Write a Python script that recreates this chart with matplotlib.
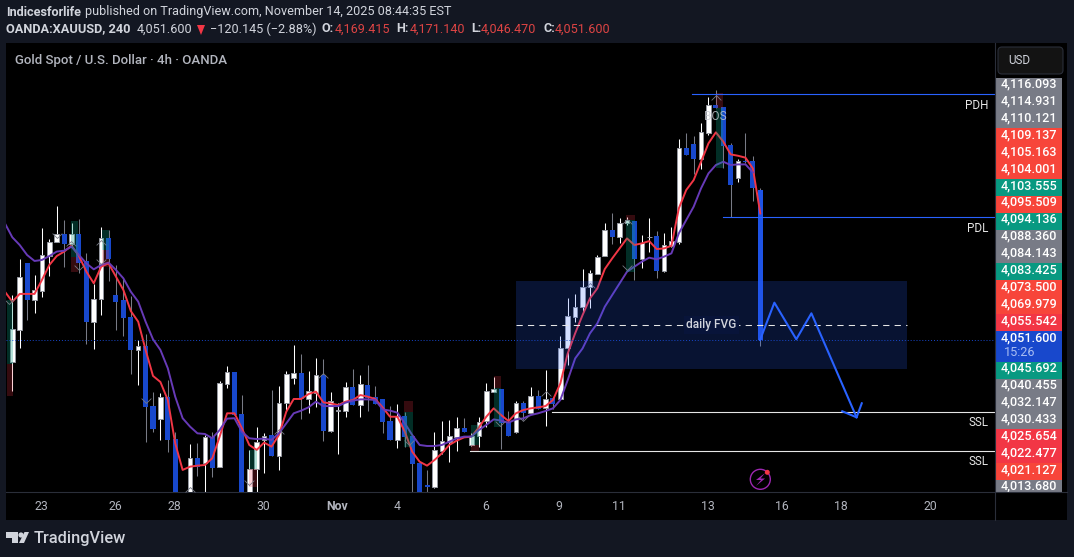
import matplotlib
matplotlib.use('Agg')
import matplotlib.pyplot as plt
from matplotlib.patches import Circle, FancyBboxPatch, Polygon, Rectangle
from matplotlib.path import Path
import numpy as np

plt.rcParams['font.family'] = ['Roboto', 'DejaVu Sans']

# OHLC of the 4h candles, one value per bar
opens = [4034.2, 4059.4, 4112.0, 4083.1, 4090.2, 4117.8, 4128.8, 4134.9, 4127.3, 4134.9,
         4113.6, 4065.7, 4083.3, 4131.7, 4086.8, 4082.8, 4069.4, 4043.4, 4046.5, 3999.2,
         3989.2, 4006.0, 3973.1, 3905.0, 3925.0, 3958.2, 3954.5, 3974.7, 3950.8, 4016.8,
         4026.0, 3992.9, 3925.0, 3949.2, 3972.1, 3976.0, 3960.0, 4001.3, 4021.5, 4025.4,
         4004.9, 4009.7, 4023.6, 3979.7, 3995.5, 3995.5, 4014.1, 4000.2, 4015.7, 4006.2,
         4004.7, 3987.3, 3972.3, 3991.3, 3975.5, 3954.2, 3936.6, 3935.5, 3963.9, 3971.0,
         3975.0, 3981.8, 3968.4, 3975.7, 3987.0, 4010.5, 4012.3, 3986.3, 3978.4, 4001.2,
         3993.9, 4007.0, 3997.3, 4005.5, 4004.9, 4044.6, 4069.6, 4077.5, 4092.8, 4103.5,
         4117.7, 4137.7, 4132.7, 4143.3, 4145.1, 4115.1, 4132.4, 4133.0, 4105.6, 4125.6,
         4128.5, 4202.7, 4205.6, 4194.0, 4214.8, 4236.6, 4235.0, 4205.1, 4179.3, 4192.2,
         4192.4, 4169.4]
highs = [4086.8, 4114.9, 4112.0, 4102.5, 4139.4, 4130.7, 4157.0, 4145.9, 4143.3, 4146.5,
         4119.6, 4095.4, 4140.7, 4138.0, 4110.4, 4099.4, 4086.0, 4051.3, 4056.0, 4010.2,
         4009.2, 4019.7, 3978.9, 3929.0, 3969.2, 3969.7, 3976.3, 3978.9, 4018.9, 4030.7,
         4026.0, 4007.9, 3964.5, 3982.4, 3977.6, 4011.8, 4015.0, 4027.1, 4047.3, 4040.2,
         4026.8, 4037.0, 4036.0, 4010.2, 4001.8, 4018.1, 4028.1, 4023.6, 4031.2, 4014.9,
         4004.7, 3999.1, 4000.7, 3994.7, 3975.5, 3954.2, 3948.6, 3978.6, 3987.3, 3988.1,
         3990.2, 3989.7, 3977.6, 3990.7, 4017.0, 4022.3, 4012.3, 3995.5, 4002.8, 4002.8,
         4013.9, 4011.8, 4027.5, 4006.5, 4054.4, 4084.1, 4087.2, 4107.2, 4106.4, 4118.3,
         4143.5, 4151.1, 4147.7, 4148.5, 4145.1, 4134.0, 4147.2, 4137.2, 4135.4, 4140.6,
         4209.8, 4214.5, 4212.4, 4222.2, 4242.9, 4248.5, 4235.0, 4206.4, 4194.0, 4214.5,
         4196.6, 4171.1]
lows = [4011.3, 4045.2, 4067.0, 4072.8, 4085.5, 4101.8, 4128.6, 4109.1, 4124.9, 4104.4,
        4048.4, 4044.4, 4071.0, 4098.1, 4059.1, 4054.4, 4024.4, 4015.8, 3971.0, 3978.9,
        3972.4, 3962.9, 3920.0, 3900.0, 3915.0, 3944.0, 3928.0, 3943.4, 3950.8, 4013.7,
        3992.1, 3920.0, 3920.0, 3925.0, 3946.6, 3960.0, 3948.7, 3994.7, 4016.5, 3989.2,
        3993.9, 3998.1, 3971.8, 3978.9, 3961.3, 3990.5, 3999.9, 3990.2, 3995.2, 4000.7,
        3978.1, 3972.3, 3966.0, 3967.1, 3930.8, 3920.0, 3931.3, 3934.2, 3961.3, 3955.0,
        3963.9, 3978.6, 3967.6, 3967.1, 3982.3, 4010.5, 3965.5, 3975.7, 3977.6, 3988.1,
        3993.4, 3996.5, 3983.4, 3996.5, 4004.9, 4031.5, 4065.7, 4073.6, 4076.2, 4103.5,
        4117.7, 4126.7, 4127.5, 4141.9, 4098.5, 4108.3, 4120.9, 4100.4, 4105.1, 4124.8,
        4126.7, 4197.2, 4181.9, 4186.1, 4212.9, 4234.0, 4186.6, 4148.5, 4176.1, 4190.6,
        4160.9, 4046.5]
closes = [4059.7, 4100.7, 4082.8, 4090.4, 4118.1, 4128.3, 4134.6, 4127.0, 4134.6, 4112.3,
          4065.7, 4083.3, 4131.5, 4115.2, 4081.2, 4068.6, 4043.4, 4046.3, 3998.7, 3981.0,
          4006.0, 3972.4, 3925.0, 3925.0, 3957.9, 3951.3, 3974.5, 3950.5, 4017.1, 4025.7,
          3992.1, 3925.0, 3949.5, 3971.0, 3975.8, 3960.0, 4001.3, 4024.2, 4024.9, 4004.4,
          4010.7, 4023.3, 3979.4, 4002.8, 3995.9, 4013.9, 3999.9, 4016.2, 4005.7, 4000.7,
          3986.5, 3972.3, 3991.0, 3974.4, 3953.4, 3925.0, 3935.5, 3964.2, 3971.3, 3975.2,
          3981.5, 3978.6, 3975.7, 3986.8, 4010.7, 4012.6, 3986.0, 3975.7, 4001.2, 3993.4,
          4006.8, 3996.5, 4004.9, 4000.7, 4044.6, 4070.1, 4077.5, 4092.8, 4103.8, 4116.4,
          4137.7, 4132.5, 4143.3, 4145.9, 4115.1, 4128.0, 4132.7, 4105.6, 4125.9, 4129.3,
          4202.4, 4197.2, 4194.0, 4215.3, 4236.4, 4234.0, 4204.5, 4173.5, 4192.2, 4191.4,
          4171.4, 4051.6]

# moving averages, first value sits one bar left of the first candle
ema_fast = [4089.4, 4081.5, 4087.6, 4087.6, 4087.6, 4098.6, 4110.4, 4117.5, 4121.0, 4125.7,
            4117.5, 4105.2, 4096.0, 4109.1, 4111.7, 4101.2, 4090.7, 4074.1, 4065.7, 4043.4,
            4022.9, 4018.1, 4003.9, 3969.7, 3948.7, 3951.3, 3952.1, 3952.6, 3957.9, 3975.0,
            3993.4, 3993.4, 3981.6, 3968.4, 3964.5, 3970.3, 3967.1, 3976.3, 3994.7, 4004.7,
            4004.7, 4008.6, 4010.5, 4002.0, 4001.2, 3999.9, 4002.6, 4003.9, 4007.8, 4006.5,
            4004.7, 3998.1, 3990.7, 3990.7, 3978.9, 3963.1, 3955.2, 3952.1, 3956.5, 3961.8,
            3968.4, 3971.8, 3974.4, 3975.0, 3982.3, 3990.7, 3997.3, 3992.0, 3987.3, 3993.4,
            3996.0, 3997.3, 3998.1, 3999.1, 4003.9, 4017.0, 4040.7, 4056.5, 4070.9, 4084.1,
            4092.0, 4107.2, 4115.6, 4123.5, 4131.4, 4126.2, 4127.5, 4129.3, 4123.0, 4123.5,
            4125.6, 4155.1, 4169.6, 4177.4, 4191.9, 4206.4, 4215.1, 4207.7, 4197.7, 4196.6,
            4195.1, 4186.6, 4151.1]
ema_slow = [4143.3, 4132.3, 4126.2, 4118.3, 4113.6, 4114.4, 4117.5, 4121.0, 4121.7, 4124.9,
            4118.3, 4111.7, 4107.0, 4110.4, 4112.3, 4106.5, 4099.9, 4089.4, 4081.5, 4065.7,
            4051.8, 4043.4, 4028.9, 4006.5, 3989.5, 3982.9, 3977.6, 3977.1, 3973.7, 3980.2,
            3989.2, 3989.5, 3978.9, 3973.7, 3973.1, 3973.4, 3972.4, 3977.6, 3985.5, 3993.4,
            3995.5, 3998.1, 4002.6, 3999.1, 3999.1, 3999.1, 4001.8, 4003.4, 4004.4, 4004.4,
            4003.9, 3996.5, 3995.5, 3993.9, 3985.5, 3976.3, 3968.4, 3967.6, 3967.6, 3968.4,
            3971.0, 3973.6, 3975.0, 3975.0, 3980.2, 3984.2, 3988.6, 3987.6, 3986.0, 3988.6,
            3989.4, 3992.0, 3993.4, 3995.2, 3997.3, 4003.9, 4019.7, 4036.7, 4044.6, 4056.5,
            4064.4, 4077.5, 4086.7, 4095.9, 4105.1, 4109.1, 4113.0, 4116.2, 4114.9, 4117.0,
            4119.6, 4135.4, 4145.9, 4156.4, 4170.9, 4182.7, 4189.3, 4191.9, 4189.3, 4189.8,
            4189.8, 4183.5]

# order block boxes: bar from, bar to, teal top, teal bottom, maroon bottom
ob_from = [-0.75, 7.9, 12.07, 32.0, 52.9, 62.0, 65.0, 82.9, 95.0]
ob_to = [0.05, 8.9, 13.06, 33.0, 54.06, 63.0, 66.0, 84.05, 96.0]
ob_teal_top = [4082.8, 4145.4, 4138.0, 3964.5, 3994.1, 3983.9, 4013.1, 4145.9, 4234.5]
ob_teal_bot = [4032.3, 4117.0, 4122.3, 3949.7, 3967.1, 3968.4, 3982.3, 4104.6, 4187.2]
ob_red_top = [4032.3, 4117.0, 4122.3, 3949.7, 4003.1, 3968.4, 4022.8, 4149.8, 4245.8]
ob_red_bot = [4007.1, 4105.2, 4109.1, 3935.5, 3994.1, 3963.1, 4013.1, 4145.9, 4234.5]

# little chevrons around the swing points
up_x = [7.9, 12.0, 24.0, 36.0, 42.0, 72.0, 78.0, 83.0, 95.0]
up_y = [4127.5, 4128.8, 3933.4, 3979.7, 4023.6, 4009.7, 4094.6, 4145.0, 4243.0]
down_x = [-0.4, 6.0, 9.0, 12.0, 18.0, 32.0, 53.5, 65.9, 69.0, 83.0]
down_y = [4081.5, 4133.3, 4108.0, 4113.0, 4003.4, 3938.2, 3969.7, 3985.0, 3989.0, 4108.0]

# drawn path after the last candle
path_x = [100.96, 102.9, 105.86, 107.9, 114.0]
path_y = [4051.2, 4080.7, 4051.8, 4072.3, 3990.2]
head_x = [112.07, 114.0, 114.7]
head_y = [3995.0, 3990.2, 4001.3]

tick_pos = [3.9, 13.9, 21.9, 33.9, 43.8, 51.9, 63.9, 73.8, 81.9, 93.9, 103.9, 111.9, 123.9]
tick_labels = ['23', '26', '28', '30', 'Nov', '4', '6', '9', '11', '13', '16', '18', '20']

axis_prices = ['4,116.093', '4,114.931', '4,110.121', '4,109.137', '4,105.163', '4,104.001',
               '4,103.555', '4,095.509', '4,094.136', '4,088.360', '4,084.143', '4,083.425',
               '4,073.500', '4,069.979', '4,055.542', '4,051.600', '4,045.692', '4,040.455',
               '4,032.147', '4,030.433', '4,025.654', '4,022.477', '4,021.127', '4,013.680']
GREY, ORANGE, RED, TEAL, BLUE = '#787b86', '#f7453a', '#f23645', '#089981', '#1848cc'
axis_colors = [GREY, GREY, GREY, ORANGE, ORANGE, ORANGE, TEAL, ORANGE, TEAL, GREY, GREY, TEAL,
               ORANGE, ORANGE, RED, BLUE, TEAL, GREY, GREY, GREY, RED, RED, ORANGE, GREY]

opens = np.array(opens)
closes = np.array(closes)
bars = np.arange(len(opens))
up = closes >= opens

BG = '#131722'
W, H = 1074, 557


def px_axes(x0, y0, x1, y1):
    # axes placed by pixel box, y measured from the top of the image
    return fig.add_axes([x0 / W, 1 - y1 / H, (x1 - x0) / W, (y1 - y0) / H])


fig = plt.figure(figsize=(W / 100, H / 100), dpi=100, facecolor=BG)

# Black panel behind chart and scales
back = px_axes(6, 43, 1067, 520)
back.set_facecolor('black')
back.set_xticks([])
back.set_yticks([])
for s in back.spines.values():
    s.set_visible(False)

# Main chart
ax = px_axes(6, 44, 995, 492)
ax.set_facecolor('black')
ax.set_xlim(-0.85, 132.69)
ax.set_ylim(3931.3, 4284.8)

# Wicks
ax.vlines(bars[up], np.array(lows)[up], np.array(highs)[up], color='white', lw=0.75, zorder=2)
ax.vlines(bars[~up], np.array(lows)[~up], np.array(highs)[~up], color='#787b86', lw=0.75, zorder=2)

# Candle bodies
ax.bar(bars[up], (closes - opens)[up], bottom=opens[up], width=0.62, color='white',
       edgecolor='#9598a1', linewidth=0.7, zorder=3)
ax.bar(bars[~up], (closes - opens)[~up], bottom=opens[~up], width=0.68, color=BLUE,
       linewidth=0, zorder=3)
ax.bar(bars[-1], closes[-1] - opens[-1], bottom=opens[-1], width=0.72, color='#1e53e5',
       linewidth=0, zorder=3)

# Moving averages
ax.plot(np.arange(-1, len(ema_fast) - 1), ema_fast, color='#f23645', lw=1.4, zorder=4)
ax.plot(np.arange(-1, len(ema_slow) - 1), ema_slow, color='#673ab7', lw=1.4, zorder=4)

# Order blocks
for i in range(len(ob_from)):
    ax.add_patch(Rectangle((ob_from[i], ob_teal_bot[i]), ob_to[i] - ob_from[i],
                           ob_teal_top[i] - ob_teal_bot[i], fc='#089981', alpha=0.3, lw=0, zorder=5))
    ax.add_patch(Rectangle((ob_from[i], ob_red_bot[i]), ob_to[i] - ob_from[i],
                           ob_red_top[i] - ob_red_bot[i], fc='#f23645', alpha=0.22, lw=0, zorder=5))

# Chevrons
up_mark = Path([(-1, -0.6), (0, 0.4), (1, -0.6)], [Path.MOVETO, Path.LINETO, Path.LINETO])
down_mark = Path([(-1, 0.6), (0, -0.4), (1, 0.6)], [Path.MOVETO, Path.LINETO, Path.LINETO])
ax.plot(up_x, up_y, ls='none', marker=up_mark, ms=7, mfc='none', mec='#787b86', mew=0.6, zorder=6)
ax.plot(down_x, down_y, ls='none', marker=down_mark, ms=7, mfc='none', mec='#787b86', mew=0.6, zorder=6)

# Daily FVG box with dashed middle
ax.add_patch(Rectangle((68.0, 4028.4), 52.8, 69.4, fc='#2962ff', alpha=0.2, lw=0, zorder=7))
ax.plot([68.0, 120.8], [4063.1, 4063.1], color='#e6e6e6', lw=0.75, dashes=(6, 5), zorder=8)
ax.text(94.4, 4063.1, 'daily FVG', color='#d1d4dc', fontsize=8.6, fontweight='medium', ha='center',
        va='center', zorder=9, bbox=dict(fc='#08143a', ec='none', pad=2))

# Last price dotted line
ax.axhline(4051.6, color='#1848cc', lw=0.7, ls=(0, (1, 2)), zorder=8)

# Horizontal levels
ax.plot([91.8, 132.69], [4245.1, 4245.1], color='#2962ff', lw=0.8, zorder=8)
ax.plot([95.9, 132.69], [4147.9, 4147.9], color='#2962ff', lw=0.8, zorder=8)
ax.plot([72.9, 132.69], [3994.8, 3994.8], color='#e6e6e6', lw=0.8, zorder=8)
ax.plot([61.8, 132.69], [3963.3, 3963.3], color='#e6e6e6', lw=0.8, zorder=8)
ax.text(131.76, 4236.6, 'PDH', color='#e6e6e6', fontsize=8.4, ha='right', va='center')
ax.text(131.76, 4139.6, 'PDL', color='#e6e6e6', fontsize=8.4, ha='right', va='center')
ax.text(131.76, 3986.5, 'SSL', color='#e6e6e6', fontsize=8.4, ha='right', va='center')
ax.text(131.76, 3955.0, 'SSL', color='#e6e6e6', fontsize=8.4, ha='right', va='center')
ax.text(94.9, 4227.2, 'BOS', color='#c8cbd2', alpha=0.8, fontsize=8.6, ha='center', va='center', zorder=9)

# Projected path
ax.plot(path_x, path_y, color='#2962ff', lw=1.5, zorder=9)
ax.plot(head_x, head_y, color='#2962ff', lw=1.5, zorder=9)

ax.text(0.0095, 0.963, 'Gold Spot / U.S. Dollar · 4h · OANDA', transform=ax.transAxes,
        color='#b2b5be', fontsize=9.5, fontweight='medium', ha='left', va='center')

# Time scale
ax.set_xticks(tick_pos)
ax.set_xticklabels(tick_labels, color='#b2b5be', fontsize=8.8)
ax.get_xticklabels()[4].set_fontweight('bold')
ax.tick_params(axis='x', length=0, pad=6)
ax.set_yticks([])
for name in ['top', 'left', 'right']:
    ax.spines[name].set_visible(False)
ax.spines['bottom'].set_color('#2a2e39')
ax.spines['bottom'].set_linewidth(0.8)

# Price scale with the stacked labels
scale = px_axes(996, 44, 1062, 492)
scale.set_xlim(0, 1)
scale.set_ylim(492, 44)
scale.axis('off')
row_y = 77.7
for label, color in zip(axis_prices, axis_colors):
    row_h = 30.7 if label == '4,051.600' else 16.89
    scale.barh(row_y, 1, height=row_h, align='edge', color=color, linewidth=0)
    scale.text(0.5, row_y + 6.4, label, color='white', fontsize=9.1, ha='center', va='center',
               clip_on=True, fontweight='medium')
    if label == '4,051.600':
        scale.text(0.12, row_y + 21.5, '15:26', color='#a9bdf2', fontsize=9.1, ha='left', va='center')
    row_y += row_h

# Everything else is placed in image pixels
top = px_axes(0, 0, W, H)
top.set_xlim(0, W)
top.set_ylim(H, 0)
top.axis('off')
top.plot([995, 995], [43, 520], color='#2a2e39', lw=0.8)
top.plot([995, 1067], [492, 492], color='#2a2e39', lw=0.8)

top.add_patch(FancyBboxPatch((1000, 49), 61, 23, boxstyle='round,pad=2,rounding_size=4',
                             fc='#131313', ec='#2a2e39', lw=0.8))
top.text(1008, 61, 'USD', color='#d1d4dc', fontsize=8.4, va='center')

# Header lines
HEAD = '#d1d4dc'
top.text(6, 12, 'Indicesforlife', color=HEAD, fontsize=9.1, fontweight='bold', va='center')
top.text(85, 12, 'published on TradingView.com, November 14, 2025 08:44:35 EST', color=HEAD,
         fontsize=9.1, va='center')
top.text(6, 29, 'OANDA:XAUUSD, 240', color=HEAD, fontsize=9.2, fontweight='bold', va='center')
top.text(137, 29, '4,051.600', color=HEAD, fontsize=9.1, va='center')
top.add_patch(Polygon([(197, 25), (205, 25), (201, 35)], fc='#f23645', lw=0))
top.text(210, 29, '−120.145 (−2.88%)', color=HEAD, fontsize=9.1, va='center')
ohlc_k = ['O:', 'H:', 'L:', 'C:']
ohlc_kx = [322, 396, 471, 543]
ohlc_v = ['4,169.415', '4,171.140', '4,046.470', '4,051.600']
ohlc_vx = [335, 410, 481, 555]
for kx, k, vx, v in zip(ohlc_kx, ohlc_k, ohlc_vx, ohlc_v):
    top.text(kx, 29, k, color=HEAD, fontsize=9.1, fontweight='bold', va='center')
    top.text(vx, 29, v, color='#dd4444', fontsize=9.1, va='center')

# Lightning badge
top.add_patch(Circle((760.3, 479.3), 10, fc='none', ec='#9c27b0', lw=1))
top.add_patch(Polygon([(765, 473), (756, 480), (761, 480), (756, 486), (765, 478.5), (760.5, 478.5)],
                      fc='#9c27b0', lw=0))
top.add_patch(Circle((767.3, 472.3), 2.5, fc='#f23645', lw=0))

# TradingView logo
LOGO = '#d1d4dc'
top.add_patch(Polygon([(6, 532), (18, 532), (18, 543), (12, 543), (12, 538), (6, 538)], fc=LOGO, lw=0))
top.add_patch(Circle((21, 535), 2.6, fc=LOGO, lw=0))
top.add_patch(Polygon([(24.5, 532), (29, 532), (24, 543), (19, 543)], fc=LOGO, lw=0))
top.text(34, 538, 'TradingView', color=LOGO, fontsize=11.8, fontweight='medium', va='center')

fig.savefig('out.png', dpi=100, facecolor=BG)
